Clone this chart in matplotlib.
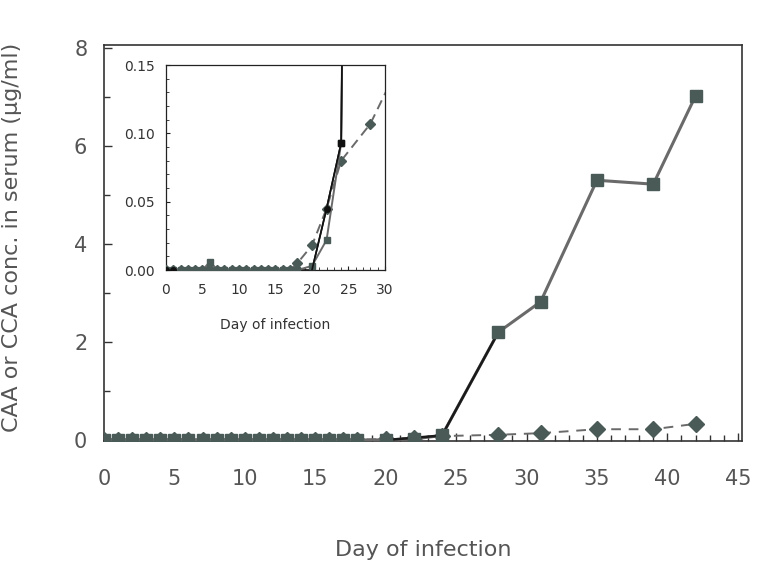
import matplotlib
matplotlib.use('Agg')
import matplotlib.pyplot as plt
from matplotlib.ticker import MultipleLocator

plt.rcParams['font.family'] = ['DejaVu Sans']

# ==================== DATA ====================
days_early = list(range(0, 19))

# gray squares, solid line
sq_days = days_early + [20, 22, 24, 28, 31, 35, 39, 42]
sq_vals = [0, 0, 0, 0, 0, 0, 0.006, 0, 0, 0, 0, 0, 0, 0, 0, 0, 0, 0, 0,
           0.003, 0.022, 0.093, 2.2, 2.82, 5.3, 5.22, 7.02]

# gray diamonds, dashed line
dm_days = days_early + [20, 22, 24, 28, 31, 35, 39, 42]
dm_vals = [0, 0, 0, 0, 0, 0, 0.002, 0, 0, 0, 0, 0, 0, 0, 0, 0, 0, 0, 0.005,
           0.018, 0.045, 0.08, 0.107, 0.14, 0.22, 0.22, 0.33]

# black series, thin solid line
bk_days = [0, 1, 20, 22, 24, 28]
bk_vals = [0, 0, 0, 0.045, 0.093, 2.2]

GRAY_LINE = '#6a6a6a'
MARK = '#4a5a57'
TXT = '#555555'

fig = plt.figure(figsize=(7.59, 5.63), dpi=100)

# ===== MAIN CHART =====
ax = fig.add_axes([0.137, 0.2167, 0.8406, 0.7034])
ax.plot(dm_days, dm_vals, color=GRAY_LINE, linestyle=(0, (5, 4)), linewidth=1.4,
        marker='D', markersize=8, markerfacecolor=MARK, markeredgecolor=MARK, zorder=3)
ax.plot(sq_days, sq_vals, color=GRAY_LINE, linewidth=2.2, zorder=3.5)
ax.plot(bk_days[2:], bk_vals[2:], color='#1a1a1a', linewidth=1.8, zorder=4)
ax.plot(sq_days, sq_vals, linestyle='none', marker='s', markersize=8,
        markerfacecolor=MARK, markeredgecolor=MARK, zorder=5)

ax.set_xlim(0, 45.3)
ax.set_ylim(-0.02, 8.06)
ax.xaxis.set_major_locator(MultipleLocator(5))
ax.xaxis.set_minor_locator(MultipleLocator(1))
ax.yaxis.set_major_locator(MultipleLocator(2))
ax.yaxis.set_minor_locator(MultipleLocator(1))
ax.tick_params(which='both', direction='in', colors='#333333', labelcolor=TXT,
               labelsize=15, top=False, right=False)
ax.tick_params(which='major', length=6, width=1)
ax.tick_params(which='minor', length=4, width=1)
ax.tick_params(axis='x', which='major', pad=20)
ax.tick_params(axis='y', which='major', pad=12)
for s in ax.spines.values():
    s.set_color('#333333')
    s.set_linewidth(1.2)
ax.set_xlabel('Day of infection', fontsize=16, color=TXT)
ax.xaxis.set_label_coords(0.5, -0.25)
ax.set_ylabel('CAA or CCA conc. in serum (\u00b5g/ml)', fontsize=16, color=TXT)
ax.yaxis.set_label_coords(-0.128, 0.513)

# ===== INSET =====
ins = fig.add_axes([0.2187, 0.5204, 0.2885, 0.364])
ins.plot(dm_days, dm_vals, color=GRAY_LINE, linestyle=(0, (5, 3)), linewidth=1.4,
         marker='D', markersize=5, markerfacecolor=MARK, markeredgecolor=MARK, zorder=3)
ins.plot(bk_days, bk_vals, color='#111111', linewidth=1.2, zorder=2)
ins.plot(sq_days, sq_vals, color=GRAY_LINE, linewidth=1.4, marker='s', markersize=5,
         markerfacecolor=MARK, markeredgecolor=MARK, zorder=4)
ins.plot(bk_days[2:], bk_vals[2:], color='#111111', linewidth=1.2, zorder=5)
ins.plot(bk_days, bk_vals, linestyle='none', marker='o', markersize=4,
         markerfacecolor='#111111', markeredgecolor='#111111', markevery=[0, 1, 3],
         zorder=6)
ins.plot(bk_days, bk_vals, linestyle='none', marker='s', markersize=4.5,
         markerfacecolor='#111111', markeredgecolor='#111111', markevery=[4],
         zorder=6)
ins.set_xlim(0, 30)
ins.set_ylim(0, 0.15)
ins.xaxis.set_major_locator(MultipleLocator(5))
ins.xaxis.set_minor_locator(MultipleLocator(1))
ins.yaxis.set_major_locator(MultipleLocator(0.05))
ins.yaxis.set_minor_locator(MultipleLocator(0.01))
ins.yaxis.set_major_formatter(plt.FormatStrFormatter('%.2f'))
ins.tick_params(which='both', direction='in', colors='#222222', labelcolor='#333333',
                labelsize=10, top=False, right=False)
ins.tick_params(which='major', length=3)
ins.tick_params(which='minor', length=2)
ins.tick_params(axis='x', which='major', pad=9)
ins.tick_params(axis='y', which='major', pad=8)
for s in ins.spines.values():
    s.set_color('#222222')
    s.set_linewidth(0.9)
ins.set_xlabel('Day of infection', fontsize=10, color='#333333')
ins.xaxis.set_label_coords(0.5, -0.235)

fig.savefig('out.png', dpi=100, facecolor='white')
plt.close(fig)
